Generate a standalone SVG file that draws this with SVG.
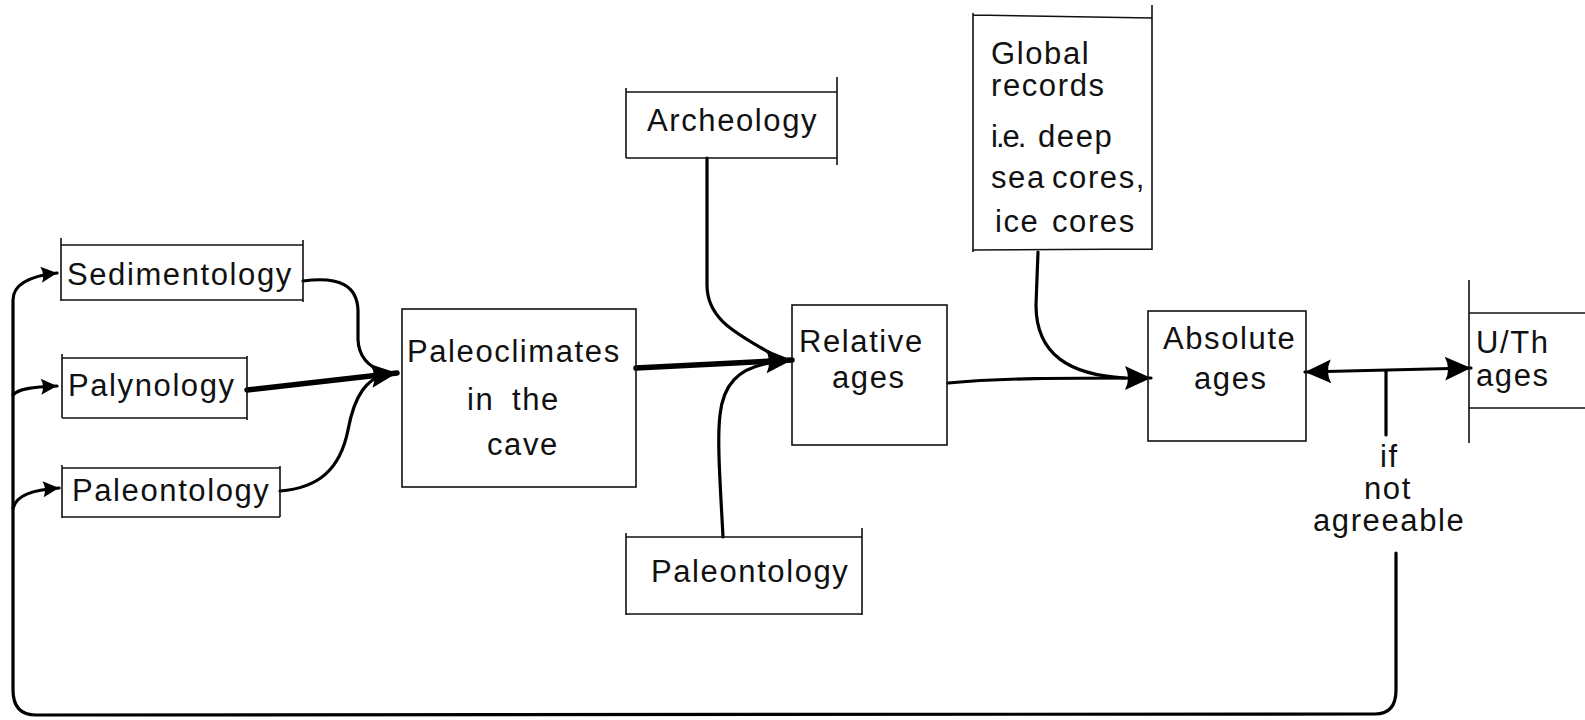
<svg xmlns="http://www.w3.org/2000/svg" width="1585" height="720" viewBox="0 0 1585 720">
<style>
.box{fill:none;stroke:#111;stroke-width:1.6}
.t{font-family:"Liberation Sans",Arial,sans-serif;font-size:31px;letter-spacing:1.6px;fill:#111}
.c{fill:none;stroke:#000;stroke-width:3.2;stroke-linecap:round;stroke-linejoin:round}
.thick{stroke-width:5.5}
</style>
<defs>
<marker id="ah" markerUnits="userSpaceOnUse" markerWidth="30" markerHeight="30" viewBox="0 0 30 30" refX="28" refY="15" orient="auto">
<path d="M2,3 L28,15 L2,27 Q8,15 2,3 Z" fill="#000"/>
</marker>
<marker id="ahs" markerUnits="userSpaceOnUse" markerWidth="18" markerHeight="18" viewBox="0 0 18 18" refX="17" refY="9" orient="auto">
<path d="M1,1 L17,9 L1,17 Q5,9 1,1 Z" fill="#000"/>
</marker>
<marker id="ahst" markerUnits="userSpaceOnUse" markerWidth="30" markerHeight="30" viewBox="0 0 30 30" refX="28" refY="15" orient="auto-start-reverse">
<path d="M2,3 L28,15 L2,27 Q8,15 2,3 Z" fill="#000"/>
</marker>
</defs>
<rect width="1585" height="720" fill="#fff"/>

<g id="connectors">
<!-- feedback loop -->
<path class="c" d="M1396,553 L1396,690 Q1396,714 1375,714 L36,715 Q13,715 13,690 L13,300 C13,284 30,276 57,273" marker-end="url(#ahs)"/>
<path class="c" d="M13,395 C18,389 32,387 57,386" marker-end="url(#ahs)"/>
<path class="c" d="M13,508 C17,495 32,490 59,488" marker-end="url(#ahs)"/>
<!-- into Paleoclimates -->
<path class="c" d="M303,281 C340,276 357,286 358,310 L358,340 C359,360 372,368 384,372"/>
<path class="c thick" d="M247,390 L397,373" marker-end="url(#ah)"/>
<path class="c" d="M280,491 C318,488 340,470 348,430 C355,392 368,380 384,374"/>
<!-- into Relative -->
<path class="c thick" d="M636,368 L792,360" marker-end="url(#ah)"/>
<path class="c" d="M707,158 L707,285 C707,320 738,334 770,353"/>
<path class="c" d="M723,537 C720,480 717,440 720,415 C723,385 738,368 770,363"/>
<!-- into Absolute -->
<path class="c" d="M948,383 C1000,378 1060,378 1151,378" marker-end="url(#ah)"/>
<path class="c" d="M1038,252 L1036,305 C1036,355 1070,375 1125,378"/>
<!-- Absolute <-> U/Th -->
<path class="c" d="M1305,372 L1471,368" marker-start="url(#ahst)" marker-end="url(#ah)"/>
<path class="c" d="M1386,371 L1386,435"/>
</g>

<g id="sedimentology">
<path class="box" d="M61,245 L303,245 M61,238 L61,301 M303,240 L303,302 M61,300 L303,300"/>
<text class="t" x="67" y="285">Sedimentology</text>
</g>
<g id="palynology">
<path class="box" d="M62,358 L247,358 M62,354 L62,418 M247,356 L247,420 M62,418 L247,418"/>
<text class="t" x="68" y="396">Palynology</text>
</g>
<g id="paleontology-left">
<path class="box" d="M62,468 L280,468 M62,465 L62,518 M280,466 L280,517 M62,517 L280,517"/>
<text class="t" x="72" y="501">Paleontology</text>
</g>
<g id="paleoclimates">
<rect class="box" x="402" y="309" width="234" height="178"/>
<text class="t" x="407" y="362">Paleoclimates</text>
<text class="t" x="467" y="410">in</text>
<text class="t" x="512" y="410">the</text>
<text class="t" x="487" y="455">cave</text>
</g>
<g id="archeology">
<path class="box" d="M626,92 L837,92 M626,88 L626,158 M837,77 L837,165 M626,158 L837,158"/>
<text class="t" x="647" y="131">Archeology</text>
</g>
<g id="relative-ages">
<rect class="box" x="792" y="305" width="155" height="140"/>
<text class="t" x="799" y="352">Relative</text>
<text class="t" x="832" y="388">ages</text>
</g>
<g id="paleontology-bottom">
<path class="box" d="M626,537 L862,537 M626,533 L626,615 M862,528 L862,615 M626,614 L862,614"/>
<text class="t" x="651" y="582">Paleontology</text>
</g>
<g id="global-records">
<path class="box" d="M973,15 L1152,18 M973,13 L973,252 M1152,5 L1152,250 M973,250 L1152,249"/>
<text class="t" x="991" y="64">Global</text>
<text class="t" x="991" y="96">records</text>
<text class="t" x="991" y="147" style="letter-spacing:-2px">i.e.</text>
<text class="t" x="1038" y="147">deep</text>
<text class="t" x="991" y="188">sea</text>
<text class="t" x="1052" y="188">cores,</text>
<text class="t" x="995" y="232">ice</text>
<text class="t" x="1052" y="232">cores</text>
</g>
<g id="absolute-ages">
<rect class="box" x="1148" y="311" width="158" height="130"/>
<text class="t" x="1163" y="349">Absolute</text>
<text class="t" x="1194" y="389">ages</text>
</g>
<g id="uth-ages">
<path class="box" d="M1469,280 L1469,443 M1469,313 L1585,313 M1469,408 L1585,408"/>
<text class="t" x="1476" y="353">U/Th</text>
<text class="t" x="1476" y="386">ages</text>
</g>
<g id="condition-label">
<text class="t" x="1380" y="467">if</text>
<text class="t" x="1364" y="499">not</text>
<text class="t" x="1313" y="531">agreeable</text>
</g>
</svg>
